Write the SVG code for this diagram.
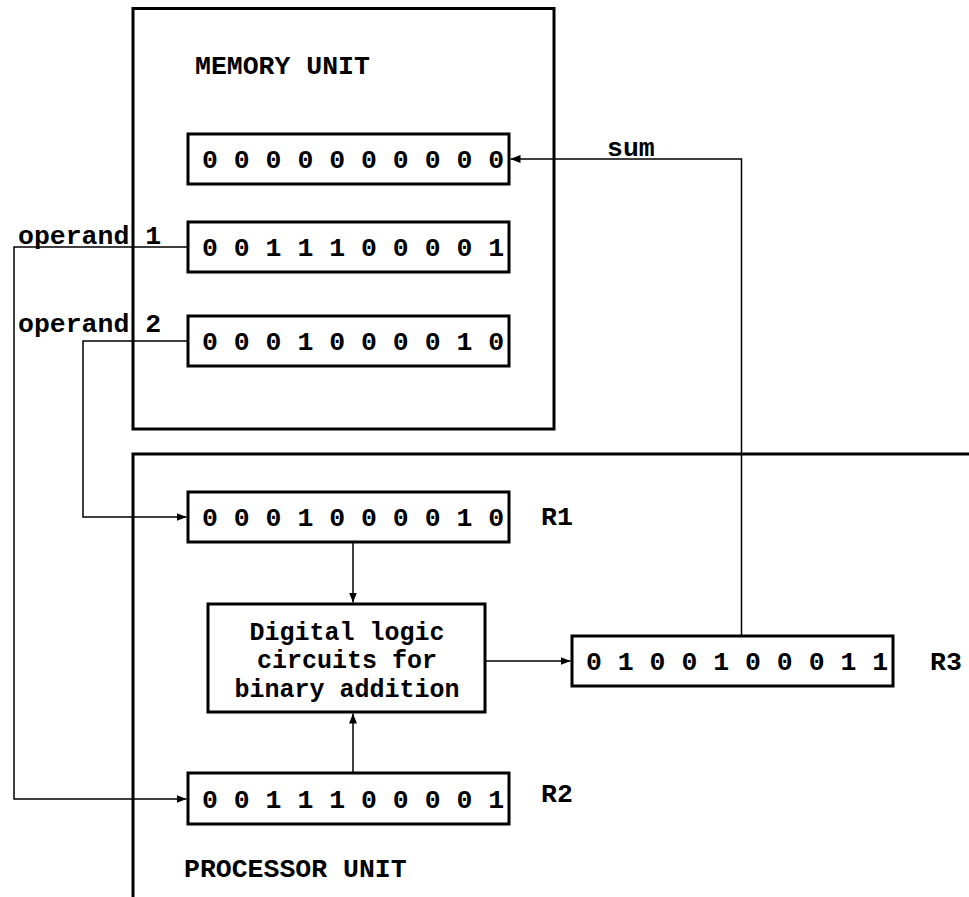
<svg xmlns="http://www.w3.org/2000/svg" width="969" height="897" viewBox="0 0 969 897">
<style>
.box{fill:#fff;stroke:#000;stroke-width:3}
.unit{fill:none;stroke:#000;stroke-width:3}
.t{font-family:"Liberation Mono","Courier New",monospace;font-weight:bold;font-size:26.5px;fill:#000}
.c{text-anchor:middle;font-size:25px}
.w{fill:none;stroke:#000;stroke-width:1.5}
</style>
<defs>
<marker id="ah" viewBox="0 0 10 10" refX="10" refY="5" markerWidth="10" markerHeight="10" markerUnits="userSpaceOnUse" orient="auto">
<path d="M0,1 L10,5 L0,9 Z" fill="#000"/>
</marker>
</defs>
<g id="memory-unit">
<rect class="unit" x="133" y="8.5" width="421" height="420.5"/>
<text class="t" x="195" y="74">MEMORY UNIT</text>
</g>
<g id="processor-unit">
<path class="unit" d="M133,897 V454 H969"/>
<text class="t" x="184" y="877">PROCESSOR UNIT</text>
</g>
<g id="mem-sum">
<rect class="box" x="188" y="134" width="321" height="50"/>
<text class="t" x="202" y="168">0 0 0 0 0 0 0 0 0 0</text>
</g>
<g id="mem-op1">
<rect class="box" x="188" y="222" width="321" height="50"/>
<text class="t" x="202" y="256">0 0 1 1 1 0 0 0 0 1</text>
</g>
<g id="mem-op2">
<rect class="box" x="188" y="316" width="321" height="50"/>
<text class="t" x="202" y="350">0 0 0 1 0 0 0 0 1 0</text>
</g>
<g id="r1">
<rect class="box" x="188" y="492" width="321" height="50"/>
<text class="t" x="202" y="526">0 0 0 1 0 0 0 0 1 0</text>
<text class="t" x="541" y="525">R1</text>
</g>
<g id="adder">
<rect class="box" x="208" y="604" width="277" height="108"/>
<text class="t c" x="347" y="639.5">Digital logic</text>
<text class="t c" x="347" y="668">circuits for</text>
<text class="t c" x="347" y="696.5">binary addition</text>
</g>
<g id="r2">
<rect class="box" x="188" y="773" width="321" height="51"/>
<text class="t" x="202" y="808">0 0 1 1 1 0 0 0 0 1</text>
<text class="t" x="541" y="802">R2</text>
</g>
<g id="r3">
<rect class="box" x="572" y="636" width="321" height="50"/>
<text class="t" x="586" y="670">0 1 0 0 1 0 0 0 1 1</text>
<text class="t" x="930" y="670">R3</text>
</g>
<g id="connectors">
<path class="w" d="M188,247 H14 V799 H186.5" marker-end="url(#ah)"/>
<path class="w" d="M188,341 H83 V517 H186.5" marker-end="url(#ah)"/>
<path class="w" d="M741.5,636 V159 H510.5" marker-end="url(#ah)"/>
<path class="w" d="M353,542 V602.5" marker-end="url(#ah)"/>
<path class="w" d="M353,773 V713.5" marker-end="url(#ah)"/>
<path class="w" d="M485,661 H570.5" marker-end="url(#ah)"/>
<text class="t" x="18" y="244">operand 1</text>
<text class="t" x="18" y="332">operand 2</text>
<text class="t" x="607" y="156">sum</text>
</g>
</svg>
